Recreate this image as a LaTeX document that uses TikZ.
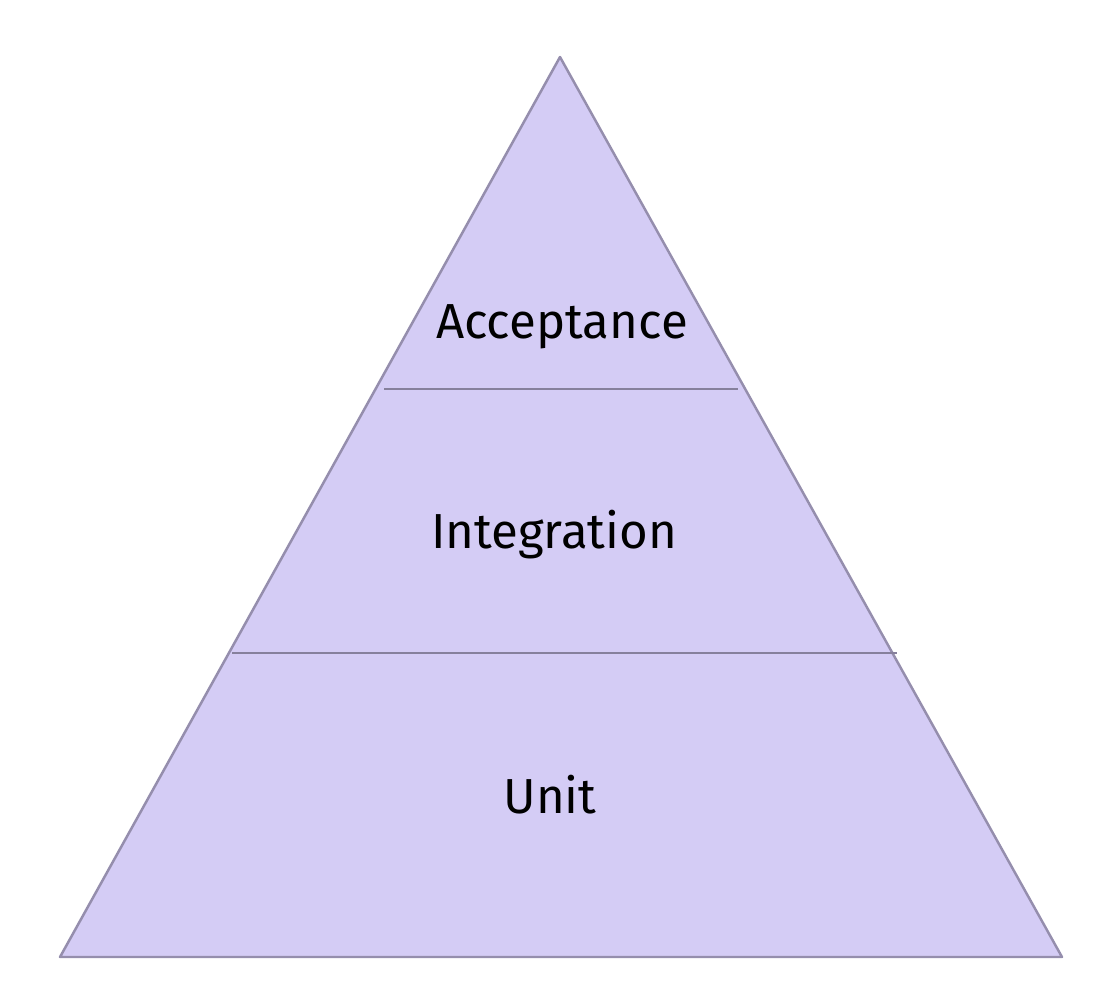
\documentclass[tikz,border=0pt]{standalone}
\usepackage{fontspec}
\setmainfont{Fira Sans}
\usetikzlibrary{positioning}
\definecolor{layerfill}{HTML}{D4CCF5}
\definecolor{layerline}{HTML}{958EAD}
\tikzset{layer/.style={font=\fontsize{28}{32}\selectfont, text=black}}
\begin{document}
\begin{tikzpicture}[x=0.02cm,y=-0.02cm]
 \useasboundingbox (0,0) rectangle (1102,1002);
 \coordinate (apex) at (560,57);
 \coordinate (baseL) at (60,957);
 \coordinate (baseR) at (1062,957);
 \coordinate (topL) at (384,389);
 \coordinate (topR) at (738,389);
 \coordinate (midL) at (232,653);
 \coordinate (midR) at (897,653);
 \draw[layerline, line width=1.4pt, fill=layerfill, line join=round] (apex) -- (baseR) -- (baseL) -- cycle;
 \draw[layerline!90!black, line width=1.6pt] (topL) -- (topR);
 \draw[layerline!90!black, line width=1.6pt] (midL) -- (midR);
 \node (acceptance) [layer] at (562,327) {Acceptance};
 \node (integration) [layer] at (554,535) {Integration};
 \node (unit) [layer] at (550,795) {Unit};
\end{tikzpicture}
\end{document}
